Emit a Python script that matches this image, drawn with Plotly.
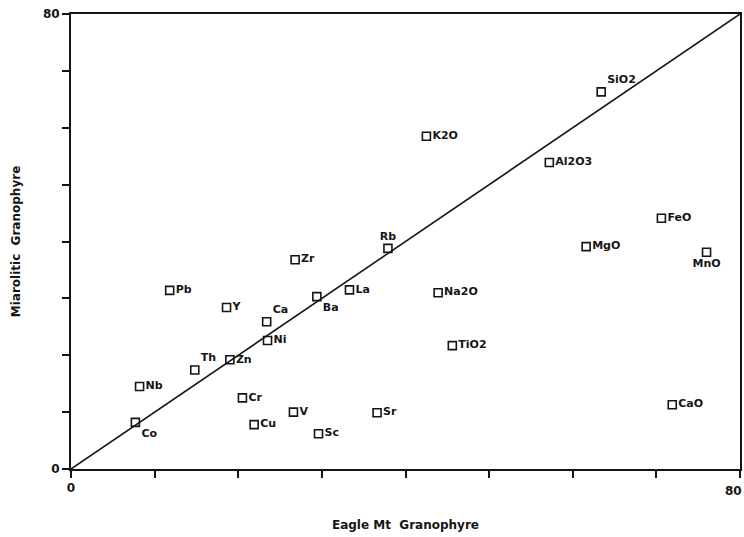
import plotly.graph_objects as go

# Element / oxide abundances: Eagle Mt granophyre (x) vs miarolitic granophyre (y)
labels = ["Co", "Nb", "Th", "Zn", "Pb", "Y", "Ca", "Ni", "Cr", "Cu", "V", "Zr",
          "Ba", "Sc", "La", "Sr", "Rb", "K2O", "Na2O", "TiO2", "Al2O3", "SiO2",
          "MgO", "FeO", "CaO", "MnO"]
eagle_mt = [7.7, 8.2, 14.8, 19.0, 11.8, 18.6, 23.4, 23.5, 20.5, 21.9, 26.6, 26.8,
            29.4, 29.6, 33.3, 36.6, 37.9, 42.5, 43.9, 45.6, 57.2, 63.4,
            61.6, 70.6, 71.9, 76.0]
miarolitic = [8.2, 14.5, 17.4, 19.2, 31.4, 28.4, 25.9, 22.6, 12.5, 7.8, 10.0, 36.8,
              30.3, 6.2, 31.5, 9.9, 38.8, 58.5, 31.0, 21.7, 53.9, 66.3,
              39.1, 44.1, 11.3, 38.1]
label_pos = {"Co": "bottom right", "Th": "top right", "Ca": "top right",
             "Ba": "bottom right", "Rb": "top center", "SiO2": "top right",
             "MnO": "bottom center"}
positions = [label_pos.get(n, "middle right") for n in labels]

axis_max = 80
tick_vals = list(range(0, 81, 10))
tick_text = ["0" if v == 0 else ("80" if v == 80 else "") for v in tick_vals]
x_tick_text = ["0" if v == 0 else "" for v in tick_vals]

font_family = "DejaVu Sans, Verdana, sans-serif"
ink = "#151515"

fig = go.Figure()

# 1:1 reference line
fig.add_trace(go.Scatter(
    x=[0, axis_max], y=[0, axis_max], mode="lines",
    line=dict(color=ink, width=1.6), hoverinfo="skip", showlegend=False))

fig.add_trace(go.Scatter(
    x=eagle_mt, y=miarolitic, mode="markers+text",
    text=labels, textposition=positions,
    textfont=dict(family=font_family, size=11, color=ink, weight="bold"),
    marker=dict(symbol="square-open", size=8, color=ink,
                line=dict(width=1.6, color=ink)),
    showlegend=False, cliponaxis=False))

axis_common = dict(
    range=[0, axis_max], tickvals=tick_vals,
    ticks="outside", ticklen=7, tickwidth=2, tickcolor=ink,
    showline=True, linecolor=ink, linewidth=2, mirror=True,
    showgrid=False, zeroline=False,
    tickfont=dict(family=font_family, size=12, color=ink, weight="bold"))

fig.update_xaxes(**axis_common, ticktext=x_tick_text,
                 title=dict(text="Eagle Mt  Granophyre", standoff=26,
                            font=dict(family=font_family, size=12, color=ink,
                                      weight="bold")))
fig.update_yaxes(**axis_common, ticktext=tick_text,
                 title=dict(text="Miarolitic  Granophyre", standoff=20,
                            font=dict(family=font_family, size=12, color=ink,
                                      weight="bold")))

# end label of the x axis, kept inside the right edge
fig.add_annotation(x=axis_max, y=0, xref="x", yref="paper", text="80",
                   showarrow=False, xanchor="right", xshift=4,
                   yanchor="top", yshift=-13,
                   font=dict(family=font_family, size=12, color=ink, weight="bold"))

fig.update_layout(
    width=744, height=537,
    margin=dict(l=71, r=2, t=14, b=68),
    paper_bgcolor="white", plot_bgcolor="white")

fig.write_html("out.html")
